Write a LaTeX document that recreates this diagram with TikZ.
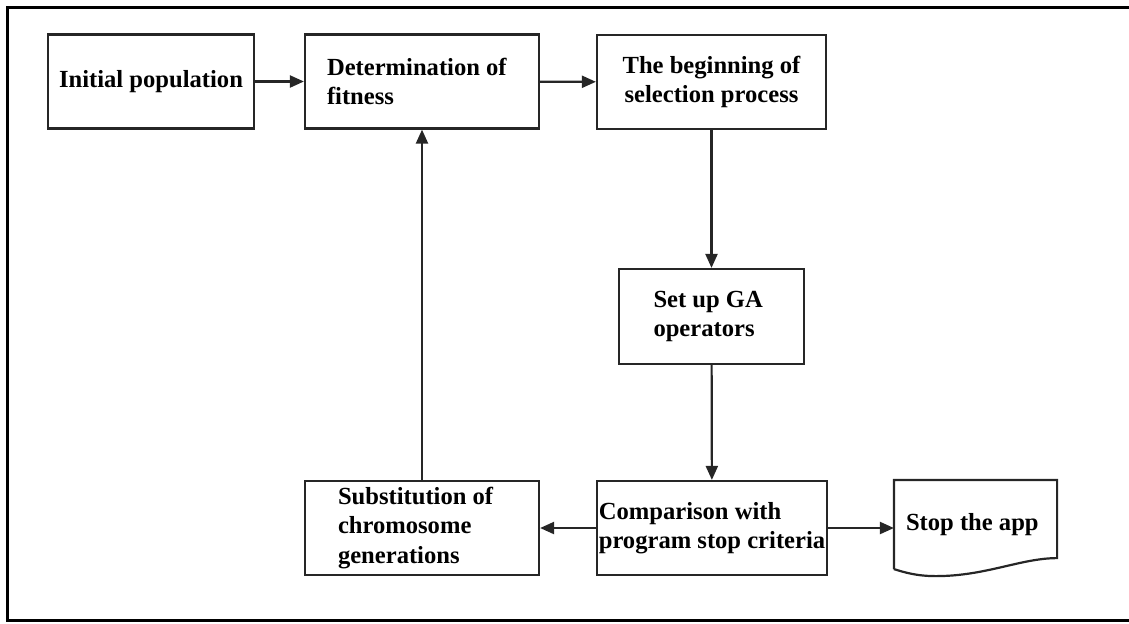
\documentclass[tikz,border=0pt]{standalone}
\usepackage{fontspec}
\setmainfont{Liberation Serif}
\usetikzlibrary{arrows.meta}

\begin{document}
\begin{tikzpicture}[x=0.5pt,y=-0.5pt,
  box/.style={draw=black!85,line width=1.1pt,font=\bfseries\fontsize{12.3}{14.6}\selectfont,minimum height=47pt,inner ysep=0pt},
  flow/.style={draw=black!85,line width=1.1pt,-{Triangle[length=7pt,width=6pt]}}]

\useasboundingbox (0,0) rectangle (1129,623);
\draw[line width=1.5pt] (7,7) rectangle (1140,620);

\node [box,minimum width=103pt,text width=95pt,inner xsep=4pt,align=flush center] (init) at (151,81.5) {Initial population};
\node [box,minimum width=117pt,text width=95pt,inner xsep=11pt,align=flush left] (fit) at (422,81.5) {Determination of\\fitness};
\node [box,minimum width=114.5pt,text width=106.5pt,inner xsep=4pt,align=flush center] (sel) at (711.5,82) {The beginning of\\selection process};
\node [box,minimum width=92.5pt,minimum height=47.5pt,text width=58pt,inner xsep=17.25pt,align=flush left] (ga) at (711.5,316.5) {Set up GA\\operators};
\node [box,minimum width=115pt,inner xsep=1pt,align=left] (cmp) at (712,528) {Comparison with\\program stop criteria};
\node [box,minimum width=117pt,text width=84pt,inner xsep=16.5pt,align=flush left] (sub) at (422,528) {Substitution of\\chromosome\\generations};
\node [box,draw=none,minimum width=80.5pt,minimum height=43.5pt,text width=69.5pt,inner xsep=5.5pt,align=flush left] (stop) at (975.5,524.5) {Stop the app};

\draw [draw=black!85,line width=1.1pt] (stop.south west) -- (stop.north west) -- (stop.north east) -- ([yshift=5.5pt]stop.south east)
  .. controls +(-18pt,0pt) and +(25pt,0pt) .. ([xshift=21pt,yshift=-3.5pt]stop.south west)
  .. controls +(-10pt,0pt) and +(5pt,-1.5pt) .. (stop.south west);

\draw [flow] (init) -- (fit);
\draw [flow] (fit) -- (sel);
\draw [flow] (sel) -- (ga);
\draw [flow] (ga) -- (cmp);
\draw [flow] (cmp) -- (sub);
\draw [flow] (cmp.east) -- (cmp.east -| stop.west);
\draw [flow] (sub) -- (fit);

\end{tikzpicture}
\end{document}
